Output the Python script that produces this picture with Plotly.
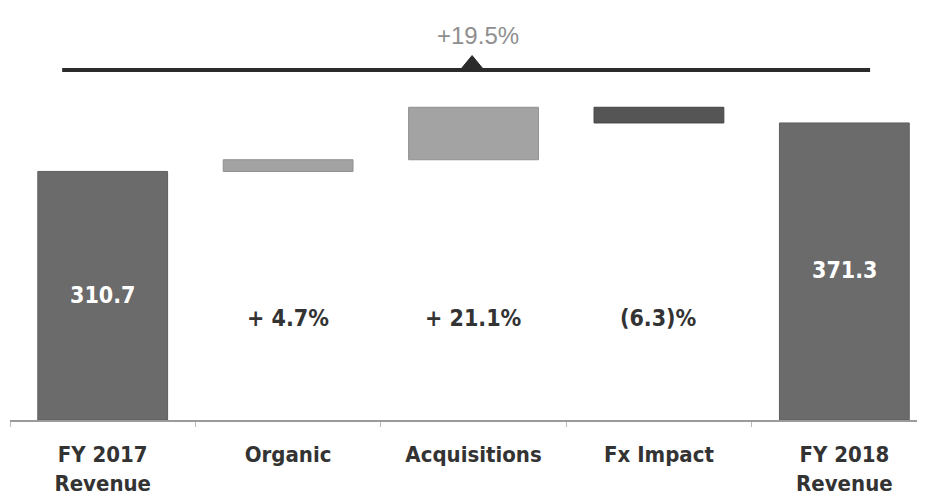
import plotly.graph_objects as go

# revenue bridge
categories = ["FY 2017<br>Revenue", "Organic", "Acquisitions", "Fx Impact", "FY 2018<br>Revenue"]
measures = ["absolute", "relative", "relative", "relative", "total"]
values = [310.7, 14.6, 65.6, -19.6, 0]
bar_labels = ["310.7", "+ 4.7%", "+ 21.1%", "(6.3)%", "371.3"]
total_growth = "+19.5%"

font_main = "Liberation Sans Narrow, Arial Narrow, DejaVu Sans Condensed, sans-serif"

fig = go.Figure(go.Waterfall(
    x=categories,
    y=values,
    measure=measures,
    increasing=dict(marker=dict(color="#a3a3a3", line=dict(color="#8f8f8f", width=1))),
    decreasing=dict(marker=dict(color="#555555", line=dict(color="#444444", width=1))),
    totals=dict(marker=dict(color="#6b6b6b", line=dict(color="#5e5e5e", width=1))),
    connector=dict(visible=False),
    hoverinfo="skip",
))

# labels inside / under the bars
label_y = [156, 128, 128, 128, 187]
label_col = ["white", "#333333", "#333333", "#333333", "white"]
for cat, txt, yy, col in zip(categories, bar_labels, label_y, label_col):
    fig.add_annotation(x=cat, y=yy, text="<b>%s</b>" % txt, showarrow=False,
                       font=dict(size=23, color=col, family=font_main))

# overall growth line with marker
fig.add_shape(type="line", xref="paper", yref="paper", x0=0.057, x1=0.940, y0=0.946, y1=0.946,
              line=dict(color="#2b2b2b", width=4))
fig.add_shape(type="path", xref="paper", yref="paper",
              path="M 0.492 0.946 L 0.505 0.985 L 0.518 0.946 Z",
              fillcolor="#2b2b2b", line=dict(color="#2b2b2b", width=1))
fig.add_annotation(xref="paper", yref="paper", x=0.511, y=1.04, yanchor="middle", text=total_growth,
                   showarrow=False, font=dict(size=24, color="#8f8f8f", family="Liberation Sans"))

# page body adds 8px offset, so margins are shifted to compensate
fig.update_layout(
    width=925, height=504,
    margin=dict(l=2, r=8, t=42, b=92),
    plot_bgcolor="white", paper_bgcolor="white",
    showlegend=False,
    waterfallgap=0.3,
    font=dict(family=font_main, size=21, color="#333333"),
    xaxis=dict(range=[-0.5, 4.435], showline=True, linecolor="#9a9a9a", linewidth=2,
               ticks="outside", tickson="boundaries", ticklen=5, tickcolor="#bbbbbb",
               ticklabelstandoff=14,
               tickfont=dict(size=22, color="#333333", family=font_main, weight="bold")),
    yaxis=dict(range=[0, 462.5], visible=False, showgrid=False, zeroline=False),
)

fig.write_html("out.html")
